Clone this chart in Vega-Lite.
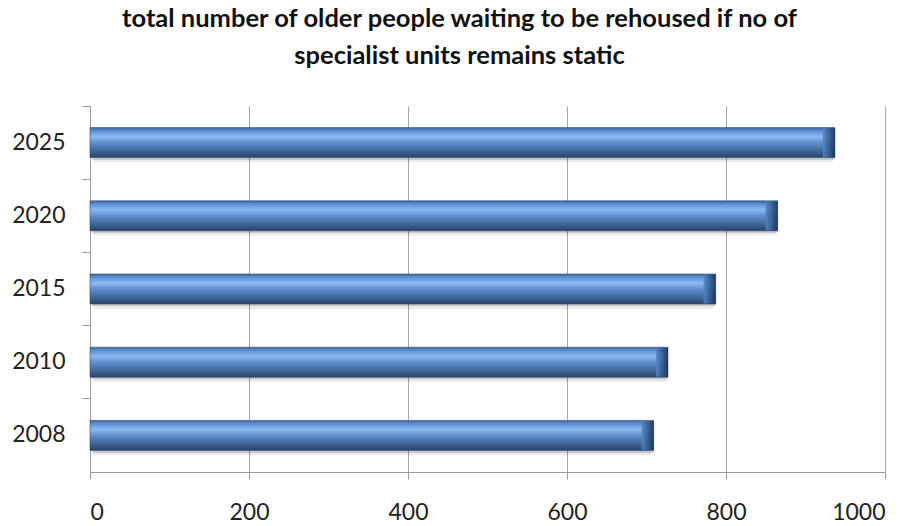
{
  "$schema": "https://vega.github.io/schema/vega-lite/v6.json",
  "autosize": {"type": "none"},
  "width": 795,
  "height": 366,
  "padding": {"left": 90, "top": 106, "right": 30, "bottom": 54},
  "background": "white",
  "view": {"stroke": null},
  "title": {
    "text": ["total number of older people waiting to be rehoused  if no of", "specialist units remains static"],
    "font": "Lato",
    "fontSize": 25.5,
    "fontWeight": "bold",
    "color": "#111111",
    "anchor": "middle",
    "frame": "group",
    "dx": -28,
    "offset": 36,
    "lineHeight": 37
  },
  "data": {
    "values": [
      {"year": "2008", "waiting": 709},
      {"year": "2010", "waiting": 727},
      {"year": "2015", "waiting": 787},
      {"year": "2020", "waiting": 865},
      {"year": "2025", "waiting": 937}
    ]
  },
  "encoding": {
    "y": {
      "field": "year",
      "type": "nominal",
      "sort": ["2025", "2020", "2015", "2010", "2008"],
      "scale": {"paddingInner": 0, "paddingOuter": 0},
      "axis": {
        "title": null,
        "bandPosition": 0,
        "domainColor": "#9a9a9a",
        "tickColor": "#9a9a9a",
        "tickSize": 8,
        "labelFont": "Lato",
        "labelFontSize": 23,
        "labelColor": "#222222",
        "labelPadding": 17,
        "grid": false
      }
    },
    "x": {
      "field": "waiting",
      "type": "quantitative",
      "scale": {"domain": [0, 1000], "nice": false},
      "axis": {
        "title": null,
        "values": [0, 200, 400, 600, 800, 1000],
        "format": "d",
        "grid": true,
        "gridColor": "#a6a6a6",
        "domainColor": "#9a9a9a",
        "tickColor": "#9a9a9a",
        "tickSize": 7,
        "labelFont": "Lato",
        "labelFontSize": 23,
        "labelColor": "#222222",
        "labelPadding": 22
      }
    }
  },
  "layer": [
    {
      "mark": {"type": "bar", "size": 34, "color": "#000000", "opacity": 0.08, "xOffset": 3, "x2Offset": 10, "yOffset": 3, "cornerRadius": 6}
    },
    {
      "mark": {"type": "bar", "size": 31, "color": "#000000", "opacity": 0.14, "xOffset": 2, "x2Offset": 5, "yOffset": 2, "cornerRadius": 3}
    },
    {
      "mark": {
        "type": "bar",
        "size": 30,
        "stroke": "#2d4b75",
        "strokeWidth": 0.6,
        "color": {
          "gradient": "linear",
          "x1": 0, "y1": 0, "x2": 0, "y2": 1,
          "stops": [
            {"offset": 0, "color": "#3d679e"},
            {"offset": 0.12, "color": "#5f92d6"},
            {"offset": 0.3, "color": "#8bbaf2"},
            {"offset": 0.5, "color": "#5f8fcf"},
            {"offset": 0.78, "color": "#3f6699"},
            {"offset": 1, "color": "#2a4266"}
          ]
        }
      }
    },
    {
      "mark": {
        "type": "bar",
        "size": 29,
        "xOffset": -12,
        "x2Offset": 0,
        "color": {
          "gradient": "linear",
          "x1": 0, "y1": 0, "x2": 1, "y2": 0,
          "stops": [
            {"offset": 0, "color": "#5585c4"},
            {"offset": 0.55, "color": "#325a8e"},
            {"offset": 1, "color": "#1c304f"}
          ]
        },
        "opacity": 0.9
      },
      "encoding": {
        "x": {"field": "waiting", "type": "quantitative"},
        "x2": {"field": "waiting"}
      }
    }
  ]
}
